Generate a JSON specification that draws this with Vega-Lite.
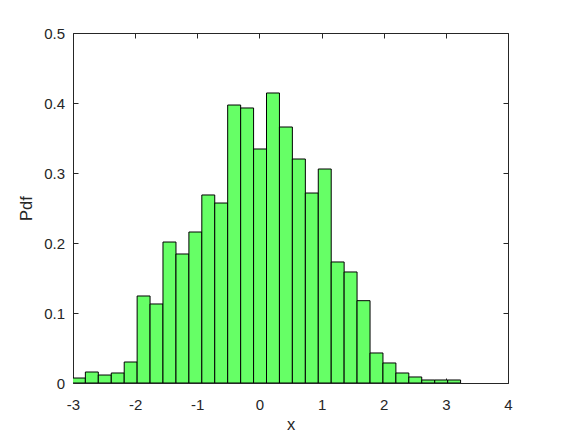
{
  "$schema": "https://vega.github.io/schema/vega-lite/v6.json",
  "width": 435,
  "height": 350,
  "autosize": {"type": "none"},
  "padding": {"left": 73, "top": 33, "right": 54, "bottom": 54},
  "background": "white",
  "config": {
    "view": {"stroke": "#262626", "strokeWidth": 1},
    "axis": {
      "domain": false,
      "grid": false,
      "ticks": true,
      "tickSize": -5,
      "tickColor": "#262626",
      "labelColor": "#262626",
      "labelFont": "Liberation Sans",
      "labelFontSize": 15,
      "titleFont": "Liberation Sans",
      "titleFontSize": 16.5,
      "titleFontWeight": "normal",
      "titleColor": "#262626",
      "labelFlush": false,
      "labelOverlap": false
    }
  },
  "data": {
    "values": [
      {"x0": -3.009, "x1": -2.801, "pdf": 0.0071},
      {"x0": -2.801, "x1": -2.593, "pdf": 0.0157},
      {"x0": -2.593, "x1": -2.384, "pdf": 0.0114},
      {"x0": -2.384, "x1": -2.176, "pdf": 0.0143},
      {"x0": -2.176, "x1": -1.968, "pdf": 0.0300},
      {"x0": -1.968, "x1": -1.760, "pdf": 0.1243},
      {"x0": -1.760, "x1": -1.552, "pdf": 0.1129},
      {"x0": -1.552, "x1": -1.343, "pdf": 0.2014},
      {"x0": -1.343, "x1": -1.135, "pdf": 0.1843},
      {"x0": -1.135, "x1": -0.927, "pdf": 0.2157},
      {"x0": -0.927, "x1": -0.719, "pdf": 0.2686},
      {"x0": -0.719, "x1": -0.511, "pdf": 0.2571},
      {"x0": -0.511, "x1": -0.302, "pdf": 0.3971},
      {"x0": -0.302, "x1": -0.094, "pdf": 0.3929},
      {"x0": -0.094, "x1": 0.114, "pdf": 0.3343},
      {"x0": 0.114, "x1": 0.322, "pdf": 0.4143},
      {"x0": 0.322, "x1": 0.530, "pdf": 0.3657},
      {"x0": 0.530, "x1": 0.739, "pdf": 0.3200},
      {"x0": 0.739, "x1": 0.947, "pdf": 0.2714},
      {"x0": 0.947, "x1": 1.155, "pdf": 0.3057},
      {"x0": 1.155, "x1": 1.363, "pdf": 0.1729},
      {"x0": 1.363, "x1": 1.571, "pdf": 0.1586},
      {"x0": 1.571, "x1": 1.780, "pdf": 0.1176},
      {"x0": 1.780, "x1": 1.988, "pdf": 0.0429},
      {"x0": 1.988, "x1": 2.196, "pdf": 0.0286},
      {"x0": 2.196, "x1": 2.404, "pdf": 0.0143},
      {"x0": 2.404, "x1": 2.612, "pdf": 0.0086},
      {"x0": 2.612, "x1": 2.821, "pdf": 0.0043},
      {"x0": 2.821, "x1": 3.029, "pdf": 0.0043},
      {"x0": 3.029, "x1": 3.237, "pdf": 0.0043}
    ]
  },
  "layer": [
    {
      "mark": {"type": "bar", "fill": "#66ff66", "stroke": "#000000", "strokeWidth": 1, "clip": true, "orient": "vertical"},
      "encoding": {
        "x": {
          "field": "x0",
          "type": "quantitative",
          "scale": {"domain": [-3, 4], "nice": false, "zero": false, "padding": 0},
          "axis": {
            "orient": "bottom",
            "values": [-3, -2, -1, 0, 1, 2, 3, 4],
            "labelExpr": "datum.value + ''",
            "labelPadding": 19,
            "title": "x",
            "titlePadding": 4
          }
        },
        "x2": {"field": "x1"},
        "y": {
          "field": "pdf",
          "type": "quantitative",
          "scale": {"domain": [0, 0.5], "nice": false, "zero": true, "padding": 0},
          "axis": {
            "orient": "left",
            "values": [0, 0.1, 0.2, 0.3, 0.4, 0.5],
            "labelExpr": "datum.value + ''",
            "labelPadding": 13.5,
            "title": "Pdf",
            "titlePadding": 9
          }
        },
        "y2": {"datum": 0}
      }
    },
    {
      "mark": {"type": "point", "opacity": 0},
      "encoding": {
        "x": {
          "field": "x0",
          "type": "quantitative",
          "axis": {"orient": "top", "values": [-3, -2, -1, 0, 1, 2, 3, 4], "labels": false, "title": null}
        },
        "y": {
          "field": "pdf",
          "type": "quantitative",
          "axis": {"orient": "right", "values": [0, 0.1, 0.2, 0.3, 0.4, 0.5], "labels": false, "title": null}
        }
      }
    }
  ],
  "resolve": {"axis": {"x": "independent", "y": "independent"}}
}
